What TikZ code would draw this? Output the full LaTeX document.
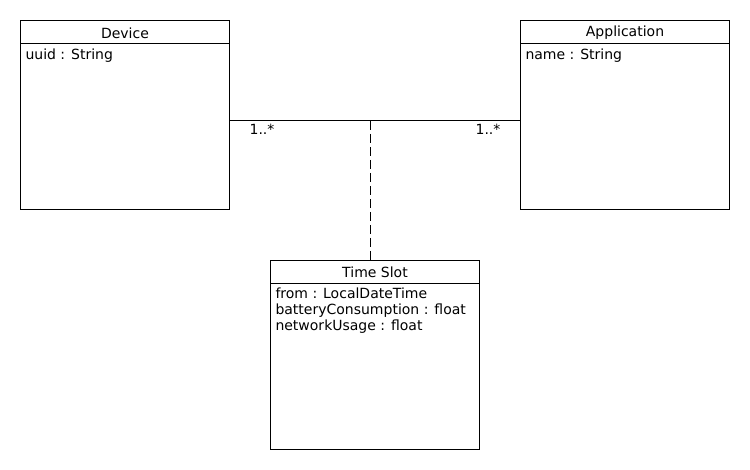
\documentclass[tikz,border=0pt]{standalone}
\usepackage{fontspec}
\setmainfont{DejaVu Sans}
\usetikzlibrary{positioning}
\usetikzlibrary{calc}
\tikzset{
  classbox/.style={draw, rectangle, minimum width=209pt, minimum height=189pt,
    anchor=north west, inner sep=0pt},
  classname/.style={font=\fontsize{14}{16}\selectfont, inner sep=0pt},
  attrs/.style={font=\fontsize{14}{16}\selectfont, align=left,
    anchor=north west, inner sep=0pt},
  mult/.style={font=\fontsize{14}{16}\selectfont, inner sep=0pt}
}

\begin{document}
\begin{tikzpicture}[x=1pt, y=-1pt, line width=1pt]

\useasboundingbox (0,0) rectangle (750,470);

% Classes
\node[classbox] (dev) at (20,20) {};
\node[classbox] (app) at (520,20) {};
\node[classbox] (slot) at (270,260) {};

% Header separators
\draw ($(dev.north west)+(0,24)$) -- ($(dev.north east)+(0,24)$);
\draw ($(app.north west)+(0,24)$) -- ($(app.north east)+(0,24)$);
\draw ($(slot.north west)+(0,23.5)$) -- ($(slot.north east)+(0,23.5)$);

% Class names
\node[classname] (devname) at ($(dev.north)+(0,13)$) {Device};
\node[classname] (appname) at ($(app.north)+(0,13)$) {Application};
\node[classname] (slotname) at ($(slot.north)+(0,12.5)$) {Time Slot};

% Attributes
\node[attrs] (devattr) at ($(dev.north west)+(5,28)$) {uuid : String};
\node[attrs] (appattr) at ($(app.north west)+(5,28)$) {name : String};
\node[attrs] (slotattr) at ($(slot.north west)+(5,27.5)$)
  {from : LocalDateTime\\batteryConsumption : float\\networkUsage : float};

% Association
\coordinate (devend) at ($(dev.north east)+(0,100.5)$);
\coordinate (append) at ($(app.north west)+(0,100.5)$);
\draw (devend) -- (append);

% Multiplicities
\node[mult] (m1) at (262,129) {1..*};
\node[mult] (m2) at (488,129) {1..*};

% Association class link
\coordinate (mid) at (370.5,121);
\draw[dash pattern=on 9pt off 4pt] (mid) -- (mid |- slot.north);

\end{tikzpicture}
\end{document}
